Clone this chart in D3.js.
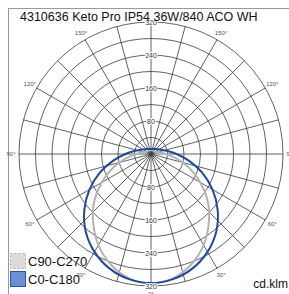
<!DOCTYPE html>
<html>
<head>
<meta charset="utf-8">
<script src="https://cdn.jsdelivr.net/npm/d3@7"></script>
<style>
  body { margin: 0; background: #fff; }
  text { font-family: "Liberation Sans", Arial, sans-serif; }
</style>
</head>
<body>
<script>
var width = 289,
    height = 294;

var cx = 151, cy = 154, radius = 132;

var title = "4310636 Keto Pro IP54 36W/840 ACO WH"
var unitLabel = "cd.klm"

// gamma angles 0..180, 0 = straight down
var gammas = [0, 10, 20, 30, 40, 50, 60, 70, 80, 90, 100, 110, 120, 130, 140, 150, 160, 170, 180]
var c0c180 = [313, 308, 295, 274, 246, 211, 172, 132, 93, 62, 41, 29, 22, 18, 16, 14, 13, 12, 12]
var c90c270 = [313, 306, 285, 255, 218, 180, 138, 98, 62, 36, 22, 15, 12, 11, 10, 10, 10, 10, 10]

var ringValues = [40, 80, 120, 160, 200, 240, 280, 320]
var ringLabels = [80, 160, 240, 320]
var spokeAngles = [0, 15, 30, 45, 60, 75, 90, 105, 120, 135, 150, 165, 180, 195, 210, 225, 240, 255, 270, 285, 300, 315, 330, 345]
var angleLabels = [30, 60, 90, 120, 150]

var legendNames = ["C90-C270", "C0-C180"]

var svg = d3.select("body").append("svg")
    .attr("width", width)
    .attr("height", height);

var rScale = d3.scaleLinear()
    .domain([0, 320])
    .range([0, radius]);

// frame
svg.append("rect")
    .attr("x", 8.5)
    .attr("y", 8.5)
    .attr("width", 300)
    .attr("height", 300)
    .attr("fill", "none")
    .attr("stroke", "#999")
    .attr("stroke-width", 1);

var g = svg.append("g")
    .attr("transform", "translate(" + cx + "," + cy + ")");

// screen angle from gamma (0 = down)
function toRad(a) { return (180 - a) * Math.PI / 180 }

// grid rings
g.selectAll(".ring")
    .data(ringValues)
    .enter().append("circle")
    .attr("r", function (d) { return rScale(d) })
    .attr("fill", "none")
    .attr("stroke", "#3a3a3a")
    .attr("stroke-width", 0.8);

// spokes
g.selectAll(".spoke")
    .data(spokeAngles)
    .enter().append("line")
    .attr("x1", 0)
    .attr("y1", 0)
    .attr("x2", function (d) { return rScale(320) * Math.sin(toRad(d)) })
    .attr("y2", function (d) { return -rScale(320) * Math.cos(toRad(d)) })
    .attr("stroke", "#3a3a3a")
    .attr("stroke-width", 0.8);

// curves
var radial = d3.lineRadial()
    .angle(function (d) { return d[0] })
    .radius(function (d) { return rScale(d[1]) })
    .curve(d3.curveCatmullRomClosed);

function curvePoints(vals) {
    var pts = []
    gammas.forEach(function (a, i) { pts.push([toRad(a), vals[i]]) })
    for (var i = gammas.length - 2; i > 0; i--) {
        pts.push([Math.PI + gammas[i] * Math.PI / 180, vals[i]])
    }
    return pts
}

g.append("path")
    .datum(curvePoints(c90c270))
    .attr("d", radial)
    .attr("fill", "none")
    .attr("stroke", "#b4b4b4")
    .attr("stroke-width", 2);

g.append("path")
    .datum(curvePoints(c0c180))
    .attr("d", radial)
    .attr("fill", "none")
    .attr("stroke", "#1d4a9c")
    .attr("stroke-width", 2);

// ring value labels, top and bottom
ringLabels.forEach(function (v) {
    [-1, 1].forEach(function (s) {
        g.append("text")
            .attr("x", 0)
            .attr("y", s * rScale(v) + 2.5)
            .attr("text-anchor", "middle")
            .attr("font-size", 7)
            .attr("fill", "#333")
            .attr("stroke", "#fff")
            .attr("stroke-width", 2)
            .attr("paint-order", "stroke")
            .text(v);
    })
})

// angle labels
angleLabels.forEach(function (a) {
    [-1, 1].forEach(function (s) {
        var rr = radius + 8
        g.append("text")
            .attr("x", s * rr * Math.sin(a * Math.PI / 180))
            .attr("y", rr * Math.cos(a * Math.PI / 180) + 2)
            .attr("text-anchor", "middle")
            .attr("font-size", 6)
            .attr("fill", "#555")
            .text(a + "°");
    })
})
g.append("text")
    .attr("x", 0)
    .attr("y", radius + 10)
    .attr("text-anchor", "middle")
    .attr("font-size", 6)
    .attr("fill", "#555")
    .text("0°");

// title
svg.append("text")
    .attr("x", 20)
    .attr("y", 21)
    .attr("font-size", 12.5)
    .attr("fill", "#111")
    .text(title);

// legend
var legend = svg.append("g")
    .attr("transform", "translate(10,253)");

legend.append("rect")
    .attr("x", 0.5).attr("y", 0.5)
    .attr("width", 15).attr("height", 15)
    .attr("fill", "#dcdcdc")
    .attr("stroke", "#aaa")
    .attr("stroke-dasharray", "2,2");

legend.append("rect")
    .attr("x", 0.5).attr("y", 18.5)
    .attr("width", 15).attr("height", 15)
    .attr("fill", "#6b8fd4")
    .attr("stroke", "#2a55a8");

legendNames.forEach(function (n, i) {
    legend.append("text")
        .attr("x", 18)
        .attr("y", 13 + i * 18)
        .attr("font-size", 13)
        .attr("fill", "#111")
        .text(n);
})

svg.append("text")
    .attr("x", 288)
    .attr("y", 288)
    .attr("text-anchor", "end")
    .attr("font-size", 12)
    .attr("fill", "#111")
    .text(unitLabel);
</script>
</body>
</html>
